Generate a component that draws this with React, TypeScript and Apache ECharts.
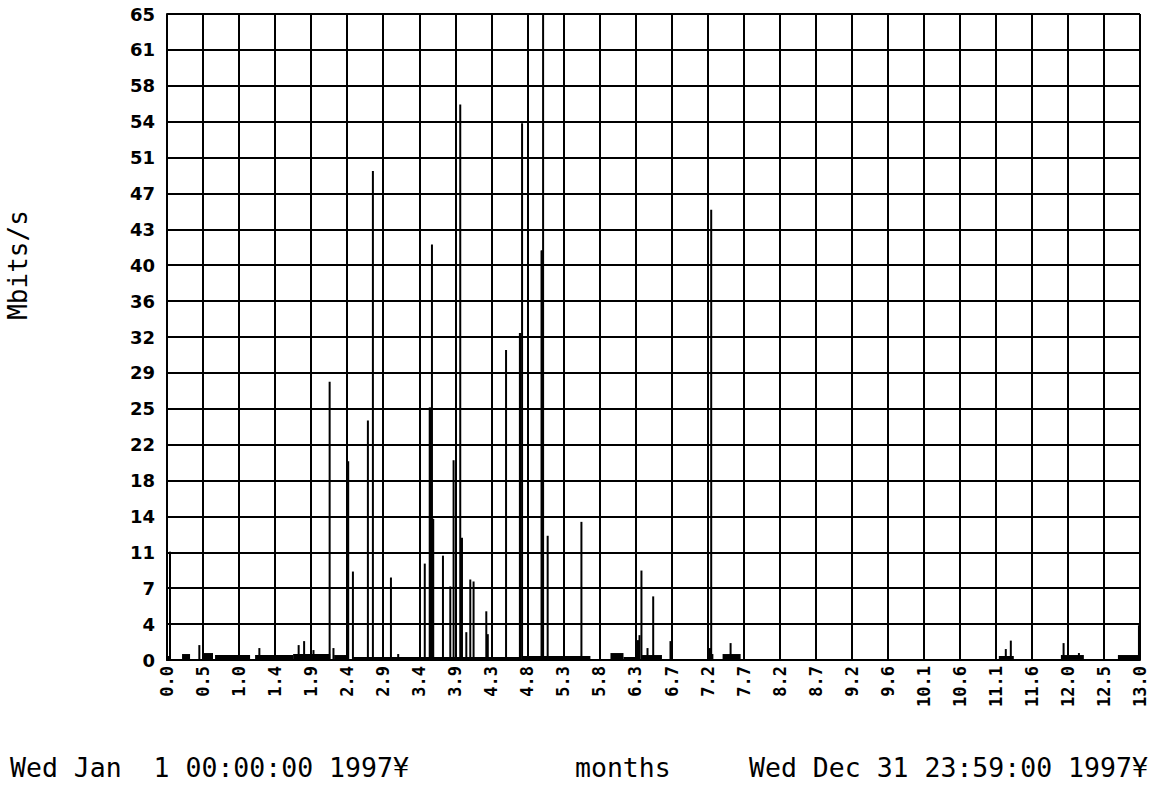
import React, { useEffect, useRef } from "react";
import * as echarts from "echarts";

// Tick labels
const yTickLabels = ["0","4","7","11","14","18","22","25","29","32","36","40","43","47","51","54","58","61","65"];
const xTickLabels = ["0.0","0.5","1.0","1.4","1.9","2.4","2.9","3.4","3.9","4.3","4.8","5.3","5.8","6.3","6.7","7.2","7.7","8.2","8.7","9.2","9.6","10.1","10.6","11.1","11.6","12.0","12.5","13.0"];

// Spikes: month position and Mbits/s value
const spikeMonths = [0.040,0.432,1.234,1.759,1.832,1.957,2.173,2.224,2.421,2.484,2.684,2.751,2.992,3.089,3.444,3.510,3.517,3.540,3.550,3.557,3.687,3.785,3.829,3.918,3.941,3.999,4.052,4.096,4.266,4.286,4.530,4.715,4.721,4.744,5.004,5.011,5.025,5.086,5.537,6.293,6.313,6.339,6.420,6.496,6.727,7.255,7.271,7.530,11.207,11.274,11.979,12.184,12.986];
const spikeValues = [10.9,1.5,1.2,1.5,1.9,1.0,28.0,1.2,20.0,8.9,24.1,49.2,8.3,0.6,9.7,25.4,25.4,41.8,14.2,14.2,10.5,7.4,20.1,55.9,12.3,2.8,8.1,7.9,4.9,2.6,31.2,32.9,32.9,54.0,41.2,41.2,65.0,12.5,13.9,2.0,2.5,9.0,1.2,6.4,1.9,1.2,45.3,1.7,1.1,1.95,1.7,0.7,3.5];

// Low background traffic: start month, end month, level
const noiseStart = [0.000,0.201,0.468,0.642,1.177,1.685,2.233,2.488,4.748,5.925,6.099,6.346,7.220,7.423,11.114,11.943,12.705];
const noiseEnd   = [0.053,0.308,0.615,1.110,1.685,2.180,2.407,4.721,5.657,6.099,6.293,6.613,7.300,7.664,11.314,12.250,12.986];
const noiseLevel = [0.4,0.6,0.7,0.5,0.5,0.6,0.5,0.3,0.4,0.7,0.3,0.5,0.6,0.6,0.4,0.5,0.5];

const Y_MAX = 65;
const X_MAX = 13;
const Y_INT = Y_MAX / (yTickLabels.length - 1);
const X_INT = X_MAX / (xTickLabels.length - 1);

export default function App() {
  const ref = useRef<HTMLDivElement>(null);
  useEffect(() => {
    if (!ref.current) return;
    const chart = echarts.init(ref.current, null, { renderer: "svg" });
    const data: number[][] = [];
    noiseStart.forEach((s, i) => data.push([s, noiseEnd[i], noiseLevel[i]]));
    spikeMonths.forEach((m, i) => data.push([m, m, spikeValues[i]]));
    const mono = "DejaVu Sans Mono";
    const bottomFont = `26.5px '${mono}'`;
    chart.setOption({
      animation: false,
      backgroundColor: "#fff",
      grid: { left: 167, right: 16, top: 14, bottom: 131, containLabel: false },
      xAxis: {
        type: "value",
        min: 0,
        max: X_MAX,
        interval: X_INT,
        axisLine: { show: true, lineStyle: { color: "#000", width: 2 } },
        axisTick: { show: false },
        splitLine: { show: true, lineStyle: { color: "#000", width: 2 } },
        axisLabel: {
          rotate: 90,
          margin: 6,
          interval: 0,
          color: "#000",
          fontFamily: mono,
          fontWeight: "bold",
          fontSize: 17,
          formatter: (v: number) => xTickLabels[Math.round(v / X_INT)] ?? "",
        },
      },
      yAxis: {
        type: "value",
        min: 0,
        max: Y_MAX,
        interval: Y_INT,
        axisLine: { show: true, lineStyle: { color: "#000", width: 2 } },
        axisTick: { show: false },
        splitLine: { show: true, lineStyle: { color: "#000", width: 2 } },
        axisLabel: {
          margin: 12,
          color: "#000",
          fontFamily: "DejaVu Sans",
          fontWeight: "bold",
          fontSize: 18,
          formatter: (v: number) => yTickLabels[Math.round(v / Y_INT)] ?? "",
        },
      },
      series: [
        {
          type: "custom",
          data,
          clip: true,
          renderItem: (params: any, api: any) => {
            const s = api.value(0);
            const e = api.value(1);
            const v = api.value(2);
            const p0 = api.coord([s, 0]);
            const p1 = api.coord([e, v]);
            const spike = e === s;
            const x = spike ? p0[0] - 1 : p0[0];
            const w = spike ? 2 : Math.max(p1[0] - p0[0], 2);
            return {
              type: "rect",
              shape: { x, y: p1[1], width: w, height: p0[1] - p1[1] },
              style: { fill: "#000" },
            };
          },
        },
      ],
      graphic: [
        {
          type: "text",
          x: 18,
          y: 265,
          rotation: Math.PI / 2,
          style: { text: "Mbits/s", font: `26px '${mono}'`, fill: "#000", textAlign: "center", textVerticalAlign: "middle" },
        },
        {
          type: "text",
          x: 10,
          y: 767,
          style: { text: "Wed Jan  1 00:00:00 1997¥", font: bottomFont, fill: "#000", textAlign: "left", textVerticalAlign: "middle" },
        },
        {
          type: "text",
          x: 575,
          y: 767,
          style: { text: "months", font: bottomFont, fill: "#000", textAlign: "left", textVerticalAlign: "middle" },
        },
        {
          type: "text",
          x: 749,
          y: 767,
          style: { text: "Wed Dec 31 23:59:00 1997¥", font: bottomFont, fill: "#000", textAlign: "left", textVerticalAlign: "middle" },
        },
      ],
    });
    return () => chart.dispose();
  }, []);
  return (
    <div
      ref={ref}
      style={{ position: "fixed", left: 0, top: 0, width: 1156, height: 791, background: "#fff" }}
    />
  );
}
